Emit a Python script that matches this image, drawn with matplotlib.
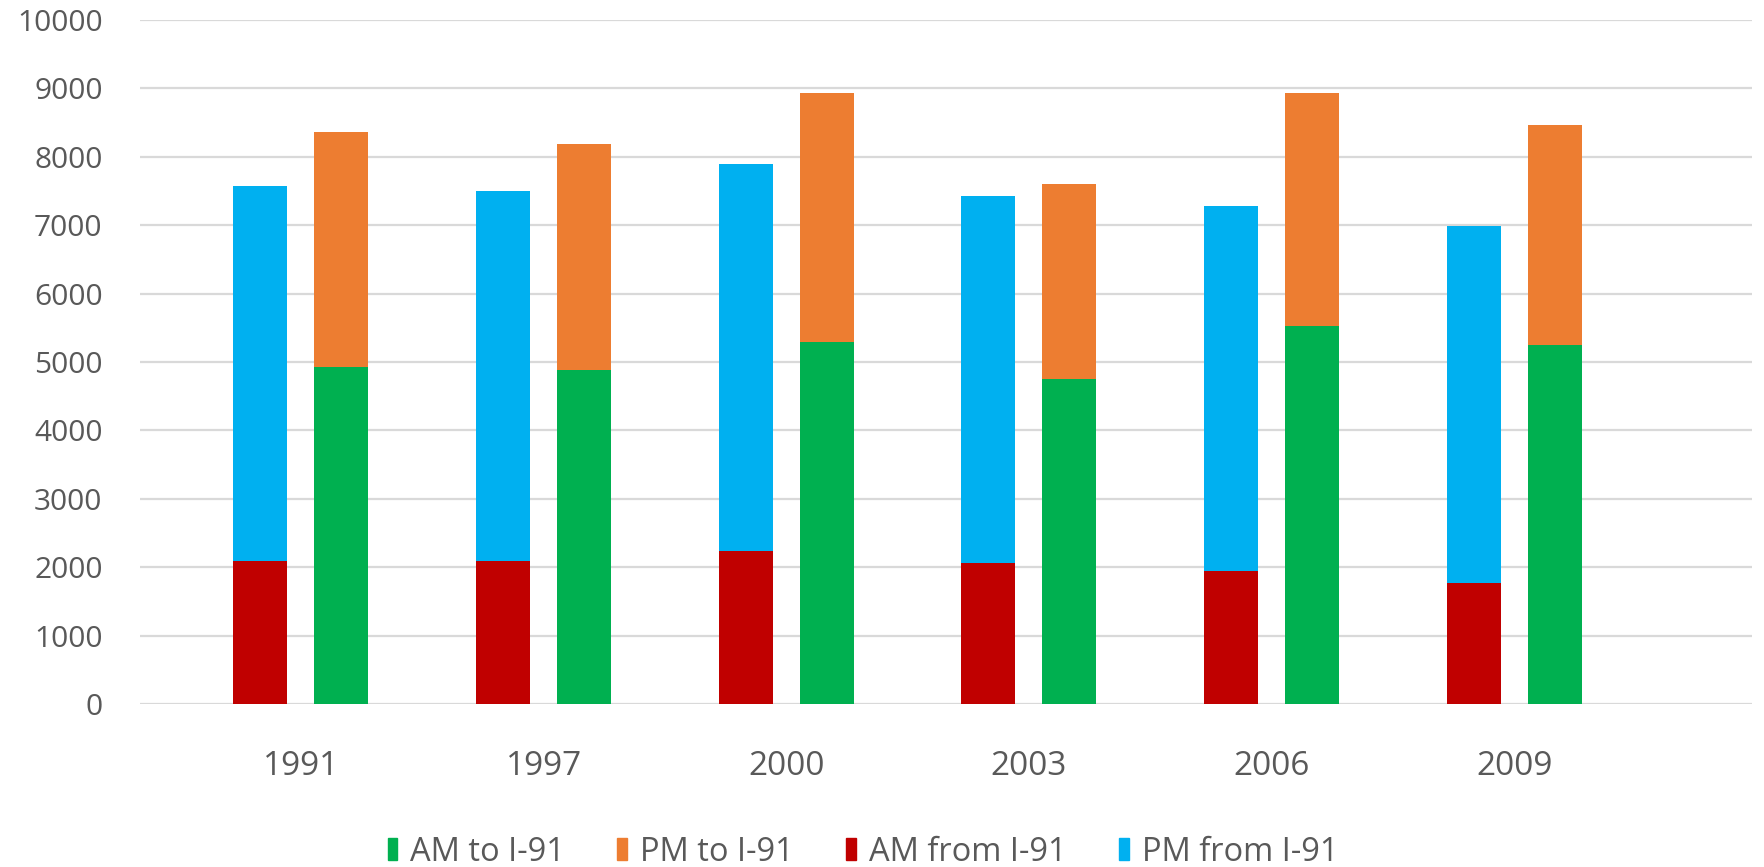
import matplotlib
matplotlib.use("Agg")
import matplotlib.pyplot as plt
from matplotlib.patches import Patch
import numpy as np

years = ["1991", "1997", "2000", "2003", "2006", "2009"]

# stacked segment values
am_from = [2095, 2095, 2240, 2055, 1950, 1775]
pm_from = [5478, 5410, 5655, 5372, 5331, 5218]
am_to = [4922, 4888, 5288, 4747, 5531, 5244]
pm_to = [3436, 3295, 3649, 2855, 3406, 3226]

yticks = [0, 1000, 2000, 3000, 4000, 5000, 6000, 7000, 8000, 9000, 10000]

GREEN = "#00B050"
ORANGE = "#ED7D31"
RED = "#C00000"
BLUE = "#00B0F0"
TEXT = "#595959"

plt.rcParams["font.family"] = ["Open Sans", "DejaVu Sans"]

fig = plt.figure(figsize=(17.64, 8.67), dpi=100)
ax = fig.add_axes([140 / 1764, 1 - 704 / 867, (1752 - 140) / 1764, (704 - 20) / 867])

x = np.arange(len(years))
off = 0.1673
w = 0.2225

ax.bar(x - off, am_from, w, color=RED, zorder=3)
ax.bar(x - off, pm_from, w, bottom=am_from, color=BLUE, zorder=3)
ax.bar(x + off, am_to, w, color=GREEN, zorder=3)
ax.bar(x + off, pm_to, w, bottom=am_to, color=ORANGE, zorder=3)

ax.set_xlim(-0.663, 5.98)
ax.set_ylim(0, 10000)
ax.set_yticks(yticks)
ax.set_yticklabels([str(v) for v in yticks])
ax.set_xticks(x)
ax.set_xticklabels(years)

ax.yaxis.grid(True, color="#d9d9d9", linewidth=1.6, zorder=0)
ax.set_axisbelow(True)
for s in ax.spines.values():
    s.set_visible(False)
ax.tick_params(axis="y", length=0, pad=27, labelsize=21.5, labelcolor=TEXT)
ax.tick_params(axis="x", length=0, pad=33, labelsize=24, labelcolor=TEXT)

handles = [
    Patch(color=GREEN, label="AM to I-91"),
    Patch(color=ORANGE, label="PM to I-91"),
    Patch(color=RED, label="AM from I-91"),
    Patch(color=BLUE, label="PM from I-91"),
]
leg = fig.legend(
    handles=handles,
    loc="center",
    bbox_to_anchor=(0.4892, 0.0173),
    ncol=4,
    frameon=False,
    fontsize=23.5,
    handlelength=0.3,
    handleheight=0.64,
    handletextpad=0.4,
    columnspacing=1.6,
    borderpad=0,
)
for t in leg.get_texts():
    t.set_color(TEXT)

fig.savefig("out.png", dpi=100, facecolor="white")
